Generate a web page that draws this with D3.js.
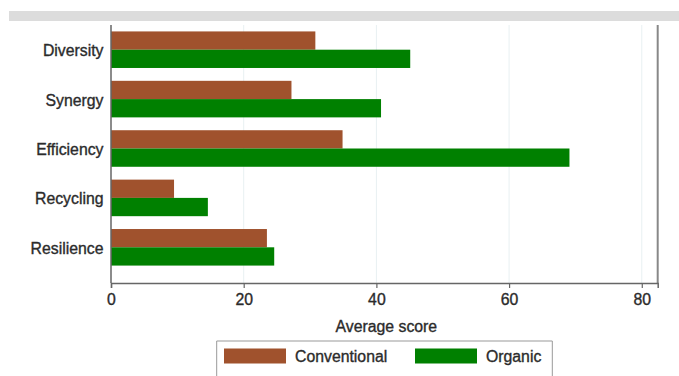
<!DOCTYPE html>
<html lang="en">
<head>
<meta charset="UTF-8">
<title>Average score</title>
<script src="https://cdn.jsdelivr.net/npm/d3@7"></script>
<style>
  body { margin: 0; background: #fff; }
  text { font-family: "Liberation Sans", Arial, sans-serif; fill: #2b2b2b; stroke: #2b2b2b; stroke-width: 0.35px; }
</style>
</head>
<body>
<svg id="chart" width="679" height="376"></svg>
<script>
// data
var categories = ["Diversity", "Synergy", "Efficiency", "Recycling", "Resilience"];
var conventional = [30.8, 27.2, 34.9, 9.5, 23.5];
var organic = [45.1, 40.7, 69.1, 14.6, 24.6];
var seriesNames = ["Conventional", "Organic"];
var seriesColors = ["#a0522d", "#008000"];
var xTicks = [0, 20, 40, 60, 80];

var svg = d3.select("#chart");

// grey band at the top
svg.append("rect").attr("x", 9).attr("y", 11).attr("width", 670).attr("height", 10).attr("fill", "#dcdcdc");

var plotL = 111, plotR = 657.7, plotT = 25, plotB = 283;

var x = d3.scaleLinear().domain([0, 82.4]).range([plotL, plotR]);
var y = d3.scaleBand().domain(categories).range([25, 272]).paddingInner(0.26).paddingOuter(0.13);
var sub = d3.scaleBand().domain(seriesNames).range([0, y.bandwidth()]);

// grid
svg.append("g").selectAll("line")
  .data(xTicks.slice(1))
  .enter().append("line")
  .attr("x1", function(d) { return x(d); }).attr("x2", function(d) { return x(d); })
  .attr("y1", plotT).attr("y2", plotB)
  .attr("stroke", "#e8f0f2").attr("stroke-width", 1);

// bars
var rows = categories.map(function(c, i) {
  return {cat: c, vals: [conventional[i], organic[i]]};
});
var g = svg.append("g").selectAll("g")
  .data(rows)
  .enter().append("g")
  .attr("transform", function(d) { return "translate(0," + y(d.cat) + ")"; });

g.selectAll("rect")
  .data(function(d) { return d.vals.map(function(v, j) { return {v: v, s: seriesNames[j], c: seriesColors[j]}; }); })
  .enter().append("rect")
  .attr("x", x(0))
  .attr("y", function(d) { return sub(d.s); })
  .attr("width", function(d) { return x(d.v) - x(0); })
  .attr("height", sub.bandwidth())
  .attr("fill", function(d) { return d.c; });

// category labels
svg.append("g").selectAll("text")
  .data(categories)
  .enter().append("text")
  .attr("x", 103.5)
  .attr("y", function(d) { return y(d) + y.bandwidth() / 2 + 1; })
  .attr("dy", "0.35em")
  .attr("text-anchor", "end")
  .style("font-size", "15.8px")
  .text(function(d) { return d; });

// frame: left, right
svg.append("line").attr("x1", plotL).attr("x2", plotL).attr("y1", plotT).attr("y2", plotB)
  .attr("stroke", "#666").attr("stroke-width", 1.5);
svg.append("line").attr("x1", plotR).attr("x2", plotR).attr("y1", plotT).attr("y2", plotB)
  .attr("stroke", "#888").attr("stroke-width", 2);

// x axis
var xAxis = d3.axisBottom(x).tickValues(xTicks).tickSize(5).tickPadding(6);
var ax = svg.append("g").attr("transform", "translate(0," + plotB + ")").call(xAxis);
ax.select(".domain").attr("stroke", "#666").attr("stroke-width", 1.5);
ax.selectAll(".tick line").attr("stroke", "#666").attr("stroke-width", 1.2);
ax.selectAll(".tick text").style("font-size", "15.8px").style("font-family", "Liberation Sans, Arial, sans-serif").attr("fill", "#2b2b2b");

svg.append("text")
  .attr("x", (plotL + plotR) / 2 + 2).attr("y", 326).attr("dy", "0.35em")
  .attr("text-anchor", "middle")
  .style("font-size", "15.8px")
  .text("Average score");

// legend
var lg = svg.append("g");
lg.append("path")
  .attr("d", "M216.7,376 V341 H552.3 V376")
  .attr("fill", "none").attr("stroke", "#999").attr("stroke-width", 1);
var legendX = [224, 415];
seriesNames.forEach(function(s, i) {
  lg.append("rect").attr("x", legendX[i]).attr("y", 348.5).attr("width", 62).attr("height", 15)
    .attr("fill", seriesColors[i]);
  lg.append("text").attr("x", legendX[i] + 71).attr("y", 356.5).attr("dy", "0.35em")
    .style("font-size", "15.8px").text(s);
});
</script>
</body>
</html>
